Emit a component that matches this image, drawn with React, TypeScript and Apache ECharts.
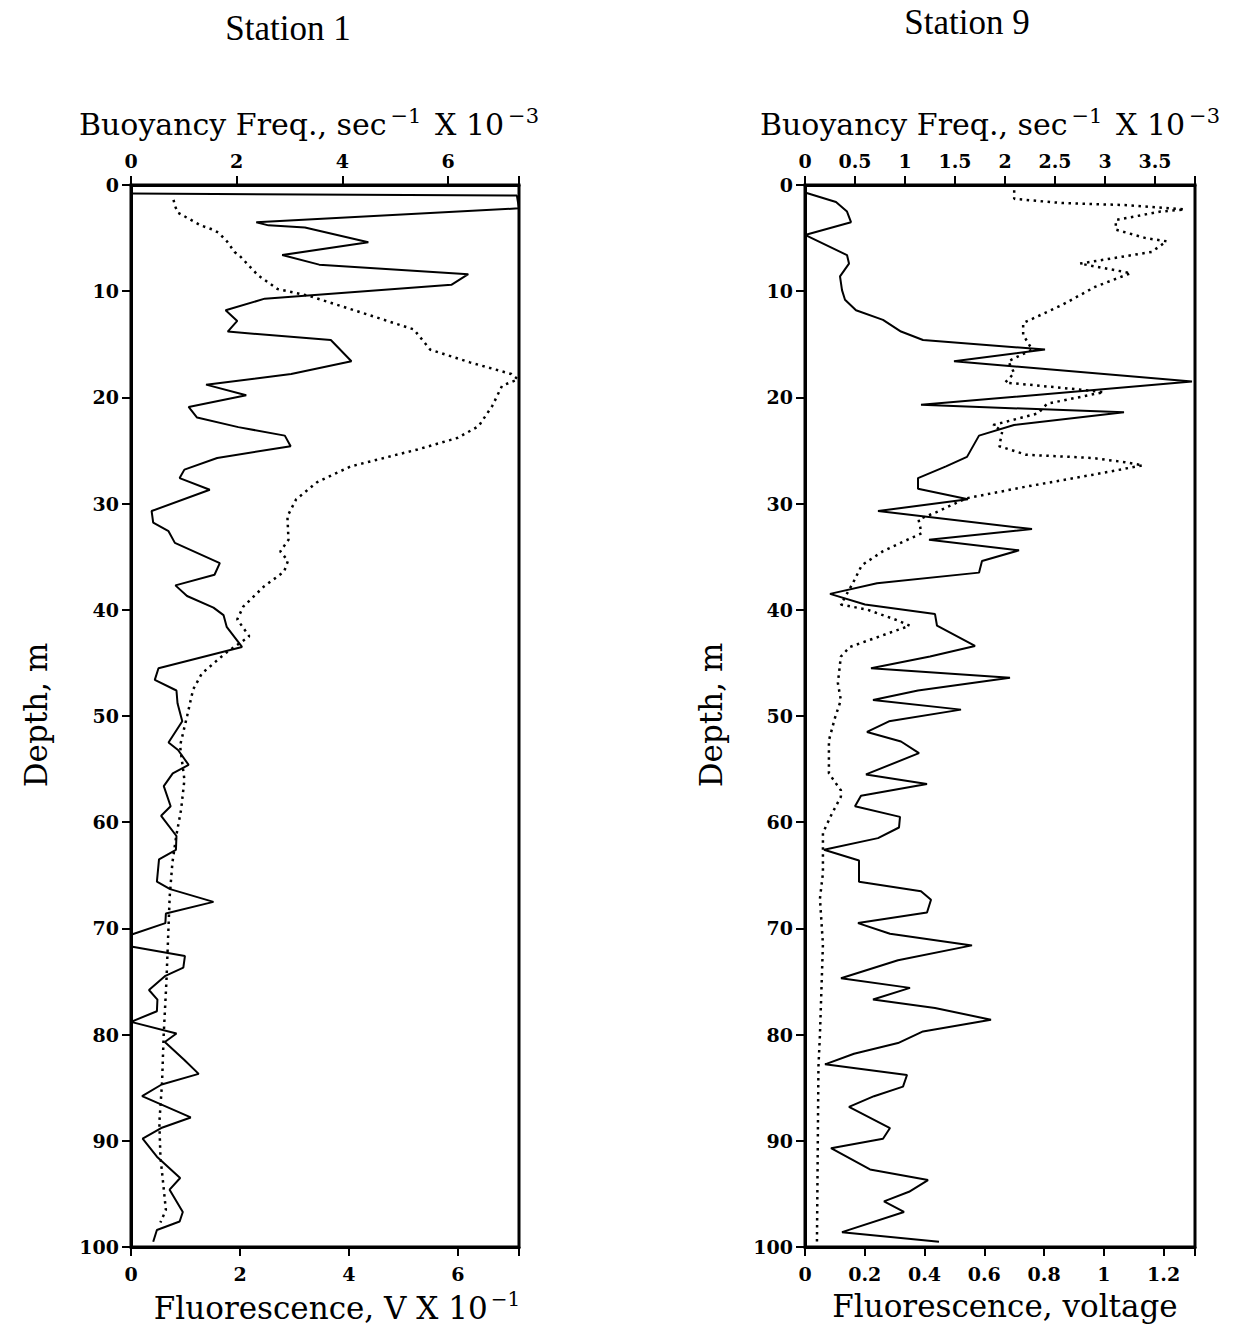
import React, { useEffect, useRef } from 'react';
import * as echarts from 'echarts';

// [value, depth (m)]
const station1Buoyancy: number[][] = [
  [0, 0.8], [7.3, 1.0], [7.34, 2.2], [2.37, 3.5], [2.6, 3.8], [3.29, 4.0], [4.49, 5.4], [2.86, 6.6], [3.56, 7.5],
  [6.38, 8.4], [6.06, 9.4], [2.53, 10.7], [1.79, 11.8], [2.01, 12.8], [1.83, 13.8], [3.78, 14.6], [4.17, 16.6],
  [3.03, 17.8], [1.42, 18.8], [2.18, 19.8], [1.09, 20.9], [1.25, 21.9], [2.03, 22.8], [2.91, 23.6], [3.02, 24.6],
  [1.63, 25.7], [1.01, 26.8], [0.92, 27.6], [1.49, 28.7], [0.39, 30.7], [0.42, 31.8], [0.71, 32.6], [0.83, 33.7],
  [1.68, 35.6], [1.58, 36.7], [0.84, 37.7], [1.06, 38.7], [1.56, 39.8], [1.75, 40.5], [1.81, 41.6], [2.1, 43.5],
  [0.52, 45.5], [0.45, 46.6], [0.86, 47.6], [0.88, 48.8], [0.97, 50.5], [0.71, 52.5], [0.89, 53.2], [1.09, 54.6],
  [0.79, 55.4], [0.62, 56.6], [0.75, 58.5], [0.57, 59.4], [0.86, 61.3], [0.85, 62.6], [0.53, 63.5], [0.49, 65.6],
  [0.74, 66.3], [1.56, 67.5], [0.66, 68.6], [0.65, 69.5], [0, 70.6], [0, 71.7], [1.02, 72.6], [0.99, 73.7],
  [0.64, 74.5], [0.34, 75.8], [0.5, 76.7], [0.49, 77.8], [0, 78.8], [0.86, 79.9], [0.64, 80.7], [1.01, 82.4],
  [1.28, 83.7], [0.58, 84.7], [0.21, 85.8], [1.13, 87.8], [0.57, 88.8], [0.22, 89.8], [0.49, 91.5], [0.93, 93.5],
  [0.73, 94.6], [0.98, 96.7], [0.92, 97.6], [0.49, 98.4], [0.42, 99.5],
];

const station1Fluorescence: number[][] = [
  [0.78, 1.4], [0.81, 2.0], [0.86, 2.6], [1.07, 3.2], [1.28, 3.8], [1.5, 4.2], [1.61, 4.5], [1.76, 5.3], [1.9, 6.3],
  [2.0, 6.7], [2.33, 8.5], [2.69, 9.8], [3.24, 10.4], [4.1, 11.8], [5.19, 13.6], [5.49, 15.5], [6.22, 16.7],
  [6.98, 17.8], [7.1, 18.3], [6.81, 18.9], [6.63, 20.8], [6.38, 22.7], [6.0, 23.8], [5.26, 24.9], [4.03, 26.5],
  [3.41, 28.0], [3.03, 29.6], [2.87, 31.2], [2.89, 33.4], [2.74, 34.5], [2.88, 35.4], [2.81, 36.4], [2.44, 37.8],
  [2.06, 39.7], [1.95, 40.9], [2.17, 42.5], [1.73, 44.1], [1.3, 46.0], [1.14, 47.5], [1.03, 50.0], [0.9, 52.8],
  [0.98, 56.0], [0.92, 58.8], [0.83, 61.3], [0.76, 63.8], [0.71, 67.0], [0.65, 75.0], [0.6, 80.0], [0.57, 84.5],
  [0.52, 88.3], [0.54, 91.5], [0.64, 96.5], [0.54, 97.7],
];

const station9Buoyancy: number[][] = [
  [0, 0.7], [0.31, 1.6], [0.42, 2.5], [0.46, 3.5], [0, 4.7], [0.42, 6.6], [0.44, 7.4], [0.35, 8.6], [0.37, 9.9],
  [0.4, 10.8], [0.51, 11.8], [0.78, 12.7], [0.96, 13.8], [1.18, 14.6], [2.4, 15.5], [1.49, 16.6], [3.87, 18.5],
  [1.16, 20.7], [3.19, 21.4], [2.09, 22.6], [1.74, 23.6], [1.62, 25.6], [1.41, 26.5], [1.13, 27.6], [1.13, 28.6],
  [1.63, 29.6], [0.73, 30.7], [2.27, 32.4], [1.24, 33.4], [2.14, 34.4], [1.77, 35.4], [1.74, 36.5], [0.72, 37.5],
  [0.25, 38.5], [0.6, 39.5], [1.3, 40.4], [1.32, 41.5], [1.7, 43.4], [1.25, 44.4], [0.66, 45.5], [2.05, 46.4],
  [1.13, 47.6], [0.68, 48.5], [1.56, 49.4], [0.84, 50.5], [0.62, 51.5], [0.96, 52.4], [1.14, 53.5], [0.61, 55.5],
  [1.22, 56.4], [0.56, 57.5], [0.5, 58.5], [0.95, 59.5], [0.94, 60.5], [0.73, 61.5], [0.19, 62.6], [0.54, 63.6],
  [0.54, 65.6], [1.16, 66.5], [1.26, 67.3], [1.22, 68.5], [0.53, 69.5], [0.85, 70.5], [1.67, 71.6], [0.93, 73.0],
  [0.36, 74.7], [1.05, 75.6], [0.68, 76.7], [1.3, 77.5], [1.86, 78.6], [1.18, 79.7], [0.93, 80.8], [0.49, 81.8],
  [0.2, 82.8], [1.02, 83.8], [0.98, 84.9], [0.69, 85.8], [0.44, 86.8], [0.85, 88.8], [0.78, 89.8], [0.26, 90.7],
  [0.65, 92.7], [1.23, 93.7], [1.04, 94.8], [0.79, 95.7], [0.99, 96.7], [0.37, 98.6], [1.34, 99.5],
];

const station9Fluorescence: number[][] = [
  [0.7, 0.5], [0.7, 1.3], [0.86, 1.7], [1.08, 1.9], [1.27, 2.3], [1.19, 2.5], [1.04, 3.3], [1.04, 4.2], [1.14, 5.0],
  [1.21, 5.3], [1.16, 6.3], [0.92, 7.4], [1.09, 8.3], [0.97, 9.6], [0.86, 11.3], [0.73, 13.0], [0.73, 14.1],
  [0.76, 15.5], [0.68, 16.6], [0.7, 17.7], [0.67, 18.6], [0.86, 19.1], [1.0, 19.5], [0.81, 20.6], [0.78, 21.5],
  [0.63, 22.6], [0.66, 23.2], [0.65, 24.6], [0.74, 25.4], [0.96, 25.7], [1.07, 26.1], [1.13, 26.4], [0.96, 27.3],
  [0.74, 28.4], [0.54, 29.5], [0.44, 30.8], [0.38, 31.5], [0.39, 32.8], [0.32, 33.7], [0.26, 34.5], [0.19, 35.8],
  [0.16, 37.5], [0.12, 39.5], [0.21, 40.0], [0.31, 41.0], [0.35, 41.5], [0.25, 42.5], [0.15, 43.5], [0.12, 44.4],
  [0.11, 46.9], [0.12, 48.5], [0.1, 50.2], [0.08, 52.3], [0.08, 55.4], [0.12, 57.0], [0.12, 57.6], [0.09, 59.2],
  [0.06, 61.0], [0.06, 64.8], [0.05, 67.2], [0.06, 71.5], [0.05, 80.0], [0.045, 83.0], [0.04, 99.5],
];

const stationTitles = ['Station 1', 'Station 9'];

const SERIF = 'DejaVu Serif';

function axisBase(extra: any) {
  return {
    type: 'value',
    axisLine: { show: true, onZero: false, lineStyle: { color: '#000', width: 3 } },
    axisTick: { show: true, length: 9, lineStyle: { color: '#000', width: 2 } },
    splitLine: { show: false },
    ...extra,
  };
}

const labelStyle = (margin: number, formatter?: (v: number) => string) => ({
  color: '#000', fontFamily: SERIF, fontWeight: 'bold', fontSize: 19, margin, ...(formatter ? { formatter } : {}),
});

const fmtEven = (v: number) => (Math.abs(v / 2 - Math.round(v / 2)) < 1e-6 ? String(Math.round(v)) : '');
const fmtHalf = (v: number) => (Math.abs(v * 2 - Math.round(v * 2)) < 1e-6 && v < 3.8 ? String(+v.toFixed(1)) : '');
const fmtFifth = (v: number) => (Math.abs(v * 5 - Math.round(v * 5)) < 1e-6 && v < 1.25 ? String(+v.toFixed(1)) : '');

export default function App() {
  const ref = useRef<HTMLDivElement>(null);
  useEffect(() => {
    if (!ref.current) return;
    const chart = echarts.init(ref.current, undefined, { renderer: 'svg' });
    const solid = { color: '#000', width: 2 };
    const dotted = { color: '#000', width: 2.5, type: [2.5, 4.5] as any };
    const titleRich = {
      m: { fontFamily: SERIF, fontSize: 30, color: '#000', lineHeight: 38 },
      s: { fontFamily: SERIF, fontSize: 21, color: '#000', verticalAlign: 'top', lineHeight: 21, padding: [0, 4, 0, 4] },
    };
    const option: any = {
      animation: false,
      backgroundColor: '#fff',
      grid: [
        { left: 131, top: 185, width: 388, height: 1062, show: true, borderColor: '#000', borderWidth: 3, backgroundColor: 'transparent' },
        { left: 805, top: 185, width: 390, height: 1062, show: true, borderColor: '#000', borderWidth: 3, backgroundColor: 'transparent' },
      ],
      xAxis: [
        axisBase({ gridIndex: 0, position: 'top', min: 0, max: 7.34, interval: 2, axisLabel: labelStyle(15, fmtEven) }),
        axisBase({ gridIndex: 0, position: 'bottom', min: 0, max: 7.12, interval: 2, axisLabel: labelStyle(17, fmtEven) }),
        axisBase({ gridIndex: 1, position: 'top', min: 0, max: 3.9, interval: 0.5, axisLabel: labelStyle(15, fmtHalf) }),
        axisBase({ gridIndex: 1, position: 'bottom', min: 0, max: 1.305, interval: 0.2, axisLabel: labelStyle(17, fmtFifth) }),
      ],
      yAxis: [
        axisBase({ gridIndex: 0, inverse: true, min: 0, max: 100, interval: 10, axisLabel: labelStyle(12) }),
        axisBase({ gridIndex: 1, inverse: true, min: 0, max: 100, interval: 10, axisLabel: labelStyle(12) }),
      ],
      series: [
        { type: 'line', name: 'Station 1 buoyancy', xAxisIndex: 0, yAxisIndex: 0, data: station1Buoyancy, symbol: 'none', lineStyle: solid, clip: true },
        { type: 'line', name: 'Station 1 fluorescence', xAxisIndex: 1, yAxisIndex: 0, data: station1Fluorescence, symbol: 'none', lineStyle: dotted, clip: true },
        { type: 'line', name: 'Station 9 buoyancy', xAxisIndex: 2, yAxisIndex: 1, data: station9Buoyancy, symbol: 'none', lineStyle: solid, clip: true },
        { type: 'line', name: 'Station 9 fluorescence', xAxisIndex: 3, yAxisIndex: 1, data: station9Fluorescence, symbol: 'none', lineStyle: dotted, clip: true },
      ],
      graphic: [
        { type: 'text', x: 288, y: 28, style: { text: stationTitles[0], font: '35px "Liberation Serif"', fill: '#000', align: 'center', verticalAlign: 'middle' } },
        { type: 'text', x: 967, y: 22, style: { text: stationTitles[1], font: '35px "Liberation Serif"', fill: '#000', align: 'center', verticalAlign: 'middle' } },
        { type: 'text', x: 311, y: 124, style: { text: '{m|Buoyancy Freq., sec}{s|−1}{m| X 10}{s|−3}', rich: titleRich, align: 'center', verticalAlign: 'middle' } },
        { type: 'text', x: 992, y: 124, style: { text: '{m|Buoyancy Freq., sec}{s|−1}{m| X 10}{s|−3}', rich: titleRich, align: 'center', verticalAlign: 'middle' } },
        { type: 'text', x: 337, y: 1308, style: { text: '{m|Fluorescence, V X 10}{s|−1}', rich: { m: { fontFamily: SERIF, fontSize: 31, color: '#000', lineHeight: 38 }, s: { fontFamily: SERIF, fontSize: 20, color: '#000', verticalAlign: 'top', lineHeight: 20, padding: [0, 0, 0, 3] } }, align: 'center', verticalAlign: 'middle' } },
        { type: 'text', x: 1005, y: 1306, style: { text: 'Fluorescence, voltage', font: '31px "DejaVu Serif"', fill: '#000', align: 'center', verticalAlign: 'middle' } },
        { type: 'text', x: 36, y: 715, rotation: Math.PI / 2, style: { text: 'Depth, m', font: '31px "DejaVu Serif"', fill: '#000', align: 'center', verticalAlign: 'middle' } },
        { type: 'text', x: 711, y: 715, rotation: Math.PI / 2, style: { text: 'Depth, m', font: '31px "DejaVu Serif"', fill: '#000', align: 'center', verticalAlign: 'middle' } },
      ],
    };
    chart.setOption(option);
    return () => chart.dispose();
  }, []);
  return <div ref={ref} style={{ position: 'fixed', left: 0, top: 0, width: 1233, height: 1332 }} />;
}
